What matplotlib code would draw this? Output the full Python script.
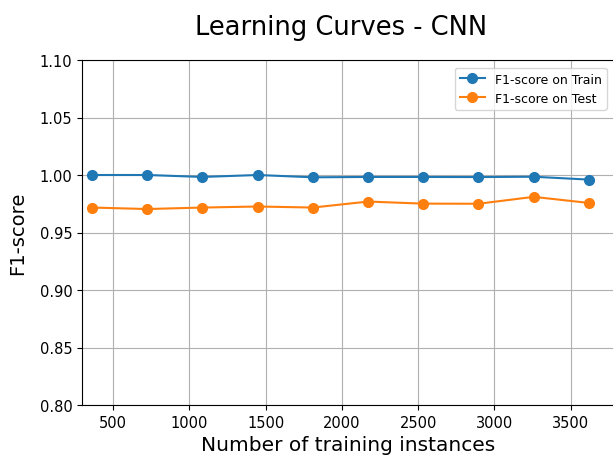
import matplotlib.pyplot as plt

# learning curve results for the CNN
train_sizes = [362, 724, 1086, 1448, 1810, 2172, 2534, 2896, 3258, 3620]
train_f1    = [1.000, 1.000, 0.9983, 1.000, 0.998, 0.9983, 0.9983, 0.9982, 0.9985, 0.996]
test_f1     = [0.9717, 0.9704, 0.9717, 0.9726, 0.9717, 0.9769, 0.9751, 0.9750, 0.9810, 0.9757]

fig = plt.figure(figsize=(6.13, 4.56), dpi=100)
ax = fig.add_axes([82 / 613, 50 / 456, 532 / 613, 345 / 456])

ax.plot(train_sizes, train_f1, "o-", markersize=7, label="F1-score on Train")
ax.plot(train_sizes, test_f1, "o-", markersize=7, label="F1-score on Test")

ax.set_xlim(296, 3785)
ax.set_ylim(0.80, 1.10)
ax.set_xticks([500, 1000, 1500, 2000, 2500, 3000, 3500])
ax.set_yticks([0.80, 0.85, 0.90, 0.95, 1.00, 1.05, 1.10])
ax.tick_params(labelsize=10.5)
ax.grid(True)

ax.set_xlabel("Number of training instances", fontsize=14.5)
ax.set_ylabel("F1-score", fontsize=14, labelpad=9)
fig.text(341 / 613, 1 - 28 / 456, "Learning Curves - CNN", fontsize=18.5,
         ha="center", va="center")
ax.legend(loc="upper right", fontsize=9, borderaxespad=0.6)

plt.savefig("out.png")
